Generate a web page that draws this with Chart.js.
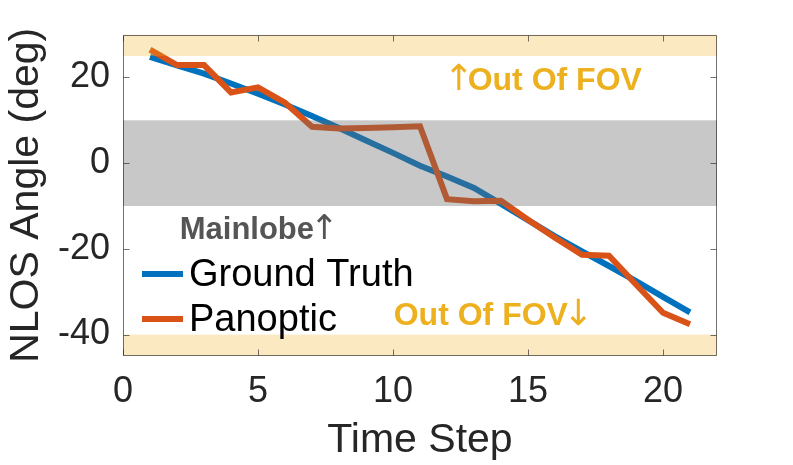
<!DOCTYPE html>
<html>
<head>
<meta charset="utf-8">
<script src="https://cdn.jsdelivr.net/npm/chart.js@4.4.1/dist/chart.umd.min.js"></script>
<style>
html,body{margin:0;padding:0;background:#fff;}
#wrap{width:793px;height:465px;position:relative;}
</style>
</head>
<body>
<div id="wrap"><canvas id="c" width="793" height="465"></canvas></div>
<script>
// ---- data ----
const timeSteps   = [1,2,3,4,5,6,7,8,9,10,11,12,13,14,15,16,17,18,19,20,21];
const groundTruth = [24.8,22.8,20.9,18.6,16.2,13.7,11.0,8.2,5.3,2.4,-0.6,-3.1,-5.8,-9.5,-13.3,-17.1,-20.6,-24.0,-27.5,-31.2,-34.8];
const panoptic    = [26.5,22.9,22.9,16.5,17.7,14.1,8.5,8.1,8.2,8.4,8.6,-8.4,-8.9,-8.8,-13.2,-17.4,-21.4,-21.6,-28.3,-34.9,-37.6];
const xTicks = [0,5,10,15,20];
const yTicks = [-40,-20,0,20];
const fovLimits = [25,-40];      // out-of-FOV beyond these
const mainlobeLimits = [10,-10]; // mainlobe band
const seriesNames = ['Ground Truth','Panoptic'];
const UP = '\u2191', DOWN = '\u2193';

const FONT = '"Liberation Sans", Arial, Helvetica, sans-serif';
const ARROWFONT = '"DejaVu Sans", sans-serif';
const TXT = '#262626';

// segs: {text, font, pre (shift before), post (advance trim)}
function drawSegments(ctx, segs, x, y, align){
  let w=0;
  segs.forEach(s=>{ctx.font=s.font; s.w=ctx.measureText(s.text).width-(s.trim||0); w+=s.w;});
  let cx = align==='center' ? x-w/2 : x;
  ctx.textAlign='left';
  segs.forEach(s=>{ctx.font=s.font; ctx.fillText(s.text, cx-(s.shift||0), y); cx+=s.w;});
}

const decor = {
  id:'decor',
  afterDatasetsDraw(chart){
    const {ctx, chartArea:a, scales:{x,y}} = chart;
    ctx.save();
    ctx.beginPath(); ctx.rect(a.left,a.top,a.width,a.height); ctx.clip();
    const band=(v1,v2,col)=>{
      const p1=y.getPixelForValue(v1), p2=y.getPixelForValue(v2);
      ctx.fillStyle=col;
      ctx.fillRect(a.left, Math.min(p1,p2), a.width, Math.abs(p2-p1));
    };
    band(y.max, fovLimits[0], 'rgba(237,177,32,0.28)');
    band(fovLimits[1], y.min, 'rgba(237,177,32,0.28)');
    band(mainlobeLimits[0], mainlobeLimits[1], 'rgba(106,106,106,0.37)');
    ctx.restore();
  },
  afterDraw(chart){
    const {ctx, chartArea:a, scales:{x,y}} = chart;
    ctx.save();
    // annotations
    ctx.textBaseline='alphabetic';
    const bold='bold 32px '+FONT, arr='36px '+ARROWFONT;
    ctx.fillStyle='#EDB120';
    drawSegments(ctx, [{text:UP,font:arr,trim:9,shift:3},{text:'Out Of FOV',font:bold}],
      x.getPixelForValue(15.6), y.getPixelForValue(17.0), 'center');
    drawSegments(ctx, [{text:'Out Of FOV',font:bold},{text:DOWN,font:arr,trim:6,shift:5}],
      x.getPixelForValue(13.7), y.getPixelForValue(-37.8), 'center');
    ctx.fillStyle='#555555';
    drawSegments(ctx, [{text:'Mainlobe',font:'bold 31px '+FONT},{text:UP,font:'34px '+ARROWFONT,shift:4}],
      x.getPixelForValue(2.1), y.getPixelForValue(-17.8), 'left');
    // legend
    const ds = chart.data.datasets;
    const rows=[a.bottom-82, a.bottom-37];
    ds.forEach((d,i)=>{
      ctx.strokeStyle=d.borderColor;
      ctx.lineWidth=6;
      ctx.beginPath();
      ctx.moveTo(a.left+19, rows[i]); ctx.lineTo(a.left+60, rows[i]);
      ctx.stroke();
      ctx.fillStyle='#000';
      ctx.font='38px '+FONT;
      ctx.textAlign='left';
      ctx.textBaseline='middle';
      ctx.fillText(d.label, a.left+66, rows[i]+2);
    });
    // box + inward ticks
    ctx.strokeStyle='rgba(38,38,38,0.65)';
    ctx.lineWidth=1;
    const L=Math.round(a.left)+0.5, R=Math.round(a.right)-0.5, T=Math.round(a.top)+0.5, B=Math.round(a.bottom)-0.5;
    ctx.beginPath();
    ctx.rect(L,T,R-L,B-T);
    const tl=6;
    xTicks.forEach(v=>{
      const px=Math.round(x.getPixelForValue(v))+0.5;
      ctx.moveTo(px,B); ctx.lineTo(px,B-tl);
      ctx.moveTo(px,T); ctx.lineTo(px,T+tl);
    });
    yTicks.forEach(v=>{
      const py=Math.round(y.getPixelForValue(v))+0.5;
      ctx.moveTo(L,py); ctx.lineTo(L+tl,py);
      ctx.moveTo(R,py); ctx.lineTo(R-tl,py);
    });
    ctx.stroke();
    ctx.restore();
  }
};

new Chart(document.getElementById('c'), {
  type:'line',
  data:{
    datasets:[
      {label:seriesNames[0], order:1, data:timeSteps.map((t,i)=>({x:t,y:groundTruth[i]})),
       borderColor:'#0072BD', borderWidth:6, pointRadius:0, tension:0, borderJoinStyle:'miter', borderCapStyle:'butt'},
      {label:seriesNames[1], order:0, data:timeSteps.map((t,i)=>({x:t,y:panoptic[i]})),
       borderColor:'#D95319', borderWidth:6, pointRadius:0, tension:0, borderJoinStyle:'miter', borderCapStyle:'butt'}
    ]
  },
  options:{
    responsive:false, animation:false,
    layout:{padding:{top:34,right:76,left:0,bottom:0}},
    plugins:{legend:{display:false}, tooltip:{enabled:false}},
    scales:{
      x:{type:'linear', min:0, max:22,
         afterBuildTicks:s=>{s.ticks=xTicks.map(v=>({value:v}));},
         afterFit:s=>{s.height=109;},
         grid:{display:false, drawTicks:false}, border:{display:false},
         ticks:{padding:14, color:TXT, font:{family:FONT,size:36}},
         title:{display:true, text:'Time Step', color:TXT, font:{family:FONT,size:41}, padding:{top:0,bottom:0}}
      },
      y:{type:'linear', min:-45, max:30,
         afterBuildTicks:s=>{s.ticks=yTicks.map(v=>({value:v}));},
         afterFit:s=>{s.width=123;},
         grid:{display:false, drawTicks:false}, border:{display:false},
         ticks:{padding:13, color:TXT, font:{family:FONT,size:36}},
         title:{display:true, text:'NLOS Angle (deg)', color:TXT, font:{family:FONT,size:41}, padding:{top:2,bottom:0}}
      }
    }
  },
  plugins:[decor]
});
</script>
</body>
</html>
